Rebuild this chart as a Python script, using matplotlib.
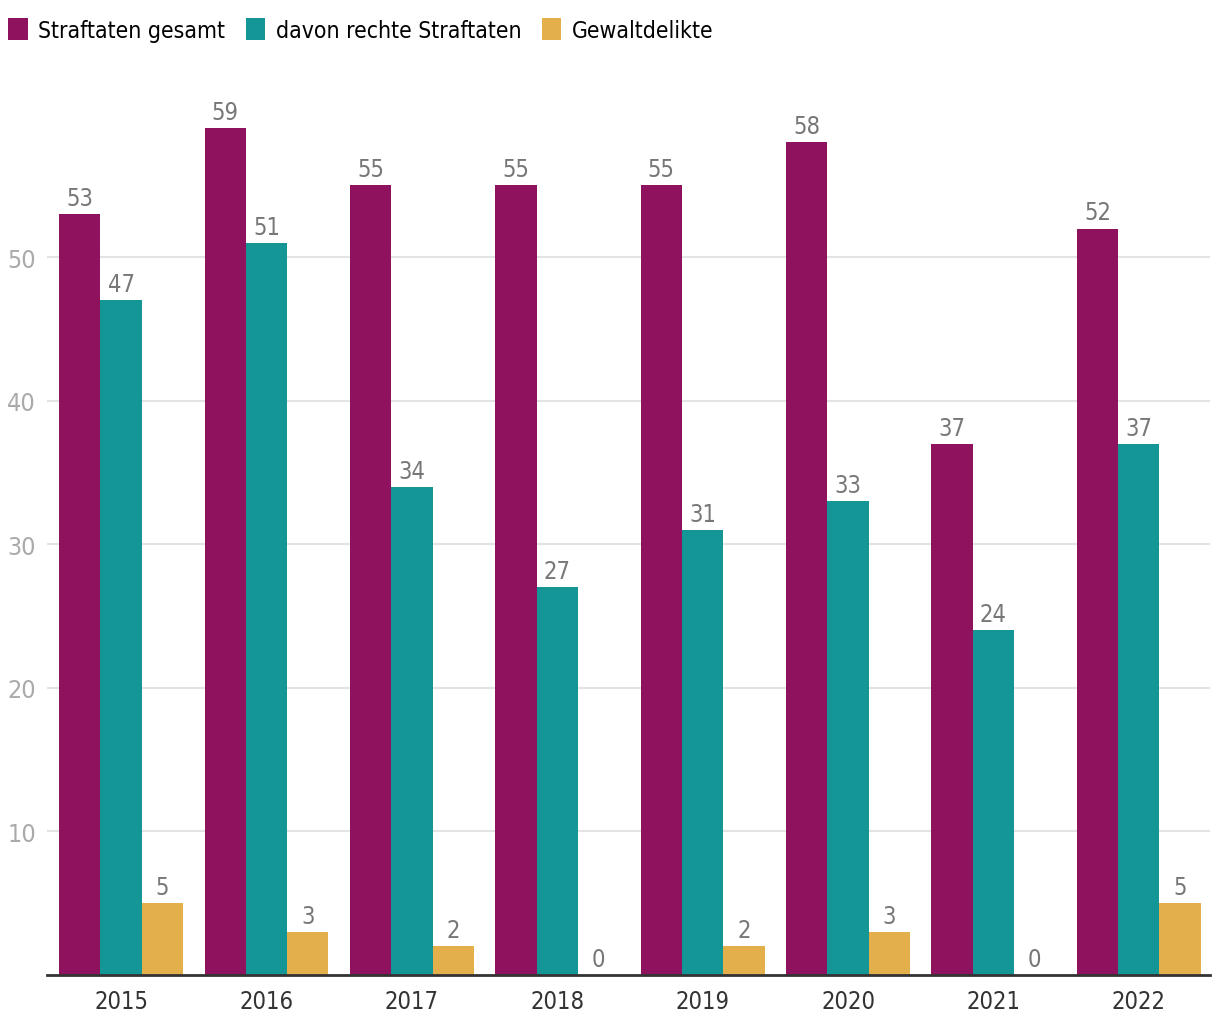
import matplotlib
matplotlib.use("Agg")
import matplotlib.pyplot as plt
import numpy as np
from matplotlib.patches import Patch

plt.rcParams["font.family"] = ["DejaVu Sans"]
plt.rcParams["font.stretch"] = "condensed"

YEARS = ["2015", "2016", "2017", "2018", "2019", "2020", "2021", "2022"]
GESAMT = [53, 59, 55, 55, 55, 58, 37, 52]
RECHTE = [47, 51, 34, 27, 31, 33, 24, 37]
GEWALT = [5, 3, 2, 0, 2, 3, 0, 5]

SERIES = [
    ("Straftaten gesamt", GESAMT, "#8E125E"),
    ("davon rechte Straftaten", RECHTE, "#149696"),
    ("Gewaltdelikte", GEWALT, "#E3AF4B"),
]

fig = plt.figure(figsize=(12.2, 10.2), dpi=100)
ax = fig.add_axes([47 / 1220, 44 / 1020, (1210 - 47) / 1220, (975 - 85) / 1020])

x = np.arange(len(YEARS))
w = 0.284
for i, (name, vals, col) in enumerate(SERIES):
    pos = x + (i - 1) * w
    ax.bar(pos, vals, width=w, color=col, zorder=2)
    for px, v in zip(pos, vals):
        ax.annotate(str(v), (px, v), xytext=(0, 3), textcoords="offset points",
                    ha="center", va="bottom", fontsize=17, color="#777777")

ax.set_xlim(-0.51, 7.49)
ax.set_ylim(0, 62)
ax.set_yticks([10, 20, 30, 40, 50])
ax.yaxis.grid(True, color="#e3e3e3", linewidth=1.5, zorder=0)
ax.set_axisbelow(True)
ax.tick_params(axis="y", length=0, labelsize=18, labelcolor="#aaaaaa", pad=8)
ax.set_xticks(x)
ax.set_xticklabels(YEARS)
ax.tick_params(axis="x", length=0, labelsize=17, labelcolor="#333333", pad=10)
for s in ["top", "right", "left"]:
    ax.spines[s].set_visible(False)
ax.spines["bottom"].set_color("#333333")
ax.spines["bottom"].set_linewidth(2)

handles = [Patch(facecolor=c, label=n) for n, _, c in SERIES]
fig.legend(handles=handles, loc="upper left", bbox_to_anchor=(-0.009, 1.0),
           ncol=3, frameon=False, fontsize=16.5, handlelength=0.85, handleheight=1.1,
           handletextpad=0.45, columnspacing=0.9, borderaxespad=0.55,
           borderpad=0.3)

fig.savefig("out.png", dpi=100)
